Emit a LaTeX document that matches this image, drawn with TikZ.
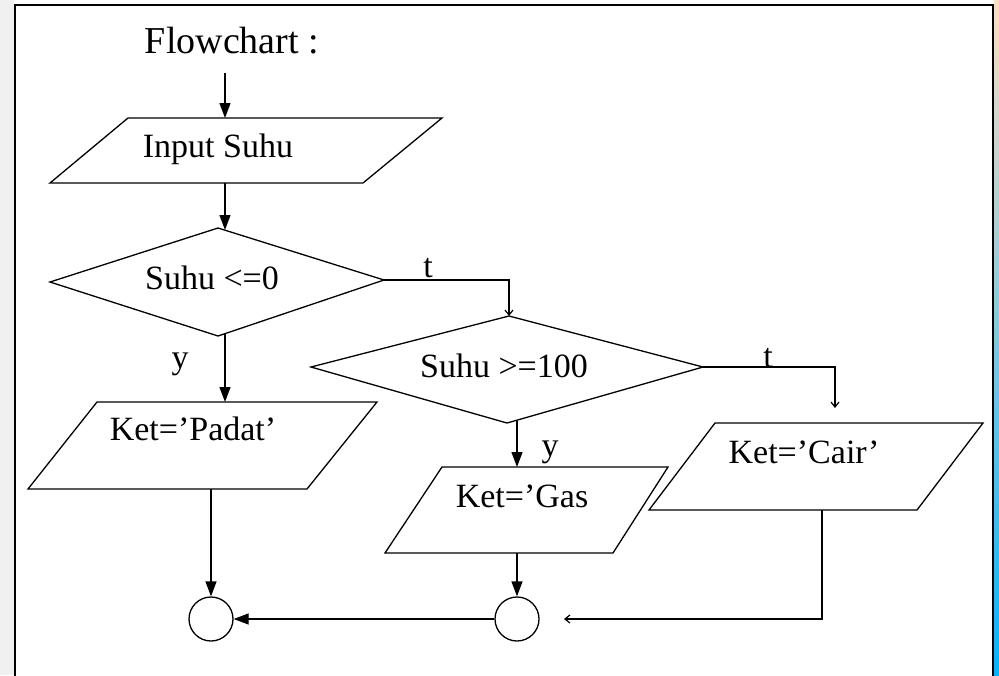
\documentclass[tikz,border=0pt]{standalone}
\usepackage{fontspec}
\setmainfont{Liberation Serif}
\usetikzlibrary{arrows.meta}
\tikzset{
  box/.style={draw=black, line width=1.3pt, line join=miter},
  conn/.style={draw=black, line width=1.3pt, -{Triangle[length=15pt,width=11pt]}},
  thinconn/.style={draw=black, line width=1.2pt, -{Straight Barb[length=5pt,width=8pt]}},
  txt/.style={anchor=base, inner sep=0pt, font=\fontsize{34}{34}\selectfont},
  lbl/.style={anchor=base, inner sep=0pt, font=\fontsize{34}{34}\selectfont},
  endc/.style={circle, draw=black, line width=1.3pt, minimum size=44pt, inner sep=0pt}
}
\begin{document}
\begin{tikzpicture}[x=1pt,y=-1pt]
\useasboundingbox (0,0) rectangle (999,675);
% background
\fill[white] (0,0) rectangle (999,675);
\fill[black!6] (0,0) rectangle (14,675);
\shade[top color=orange!25, bottom color=cyan!70!blue] (994,0) rectangle (999,675);
\draw[line width=2.2pt] (15,690) -- (15,5) -- (993,5) -- (993,690);

% title
\node[anchor=base, inner sep=0pt, font=\fontsize{38}{38}\selectfont] (title) at (232,53) {Flowchart :};
\coordinate (start) at (225,73);

% Input parallelogram
\coordinate (in1) at (128,118); \coordinate (in2) at (442,118);
\coordinate (in3) at (363,183); \coordinate (in4) at (50,183);
\draw[box] (in1) -- (in2) -- (in3) -- (in4) -- cycle;
\node[txt] (intext) at (218,157) {Input Suhu};
\coordinate (inT) at (225,118); \coordinate (inB) at (225,183);

% Diamond 1
\coordinate (d1t) at (218,228); \coordinate (d1r) at (384,280);
\coordinate (d1b) at (218,336); \coordinate (d1l) at (50,282);
\draw[box] (d1t) -- (d1r) -- (d1b) -- (d1l) -- cycle;
\node[txt] (d1text) at (212,289) {Suhu <=0};
\coordinate (d1in) at (225,230); \coordinate (d1out) at (225,334);

% Diamond 2
\coordinate (d2t) at (509,316); \coordinate (d2r) at (703,367);
\coordinate (d2b) at (507,423); \coordinate (d2l) at (311,367);
\draw[box] (d2t) -- (d2r) -- (d2b) -- (d2l) -- cycle;
\node[txt] (d2text) at (504,377) {Suhu >=100};
\coordinate (d2out) at (517,421);

% Padat parallelogram
\coordinate (p1) at (97,402); \coordinate (p2) at (377,402);
\coordinate (p3) at (307,489); \coordinate (p4) at (28,489);
\draw[box] (p1) -- (p2) -- (p3) -- (p4) -- cycle;
\node[txt] (ptext) at (193,440) {Ket=’Padat’};
\coordinate (pT) at (225,402); \coordinate (pB) at (211,489);

% Gas parallelogram
\coordinate (g1) at (442,467); \coordinate (g2) at (668,467);
\coordinate (g3) at (613,553); \coordinate (g4) at (385,553);
\draw[box] (g1) -- (g2) -- (g3) -- (g4) -- cycle;
\node[txt] (gtext) at (522,507) {Ket=’Gas};
\coordinate (gT) at (517,467); \coordinate (gB) at (517,553);

% Cair parallelogram
\coordinate (c1) at (715,423); \coordinate (c2) at (983,423);
\coordinate (c3) at (917,510); \coordinate (c4) at (649,510);
\draw[box] (c1) -- (c2) -- (c3) -- (c4) -- cycle;
\node[txt] (ctext) at (804,463) {Ket=’Cair’};
\coordinate (cB) at (822,510);
\coordinate (cT) at (835,408);
\coordinate (cEnd) at (564,619);

% end circles
\node[endc] (e1) at (211,619) {};
\node[endc] (e2) at (517,619) {};

% connectors
\draw[conn] (start) -- (inT);
\draw[conn] (inB) -- (d1in);
\draw[conn] (d1out) -- (pT);
\node[lbl] (y1) at (180,368) {y};
\draw[thinconn] (d1r) -- (d1r -| d2t) -- (d2t);
\node[lbl] (t1) at (428,277) {t};
\draw[conn] (d2out) -- (gT);
\node[lbl] (y2) at (550,456) {y};
\draw[thinconn] (d2r) -- (d2r -| cT) -- (cT);
\node[lbl] (t2) at (768,367) {t};
\draw[conn] (pB) -- (e1.north);
\draw[conn] (gB) -- (e2.north);
\draw[conn] (e2.west) -- (e1.east);
\draw[thinconn] (cB) -- (cB |- cEnd) -- (cEnd);
\end{tikzpicture}
\end{document}
